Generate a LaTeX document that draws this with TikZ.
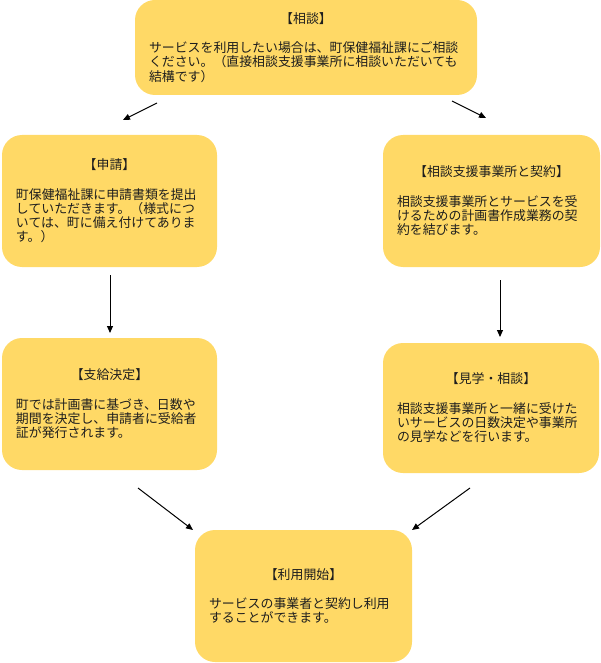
\documentclass[tikz,border=0pt]{standalone}
\usepackage{fontspec}
\newfontfamily\jp{Noto Sans CJK JP}
\usetikzlibrary{arrows.meta}
\definecolor{boxfill}{HTML}{FFD966}
\definecolor{txt}{HTML}{1E1E1E}
\begin{document}
\begin{tikzpicture}[x=1pt,y=-1pt,
  box/.style={fill=boxfill, rounded corners=20pt, inner xsep=14pt, inner ysep=0pt,
    align=left, font=\jp\fontsize{12.9}{14.3}\selectfont, text=txt},
  arr/.style={-{Triangle[length=7pt,width=6pt]}, line width=1pt, black}]
\useasboundingbox (0,0) rectangle (600,663);

\node[box, minimum width=342pt, minimum height=95pt, text width=314pt] (soudan) at (306,47.5)
  {\makebox[\linewidth]{【相談】}\\[15pt]
   サービスを利用したい場合は、町保健福祉課にご相談\\
   ください。（直接相談支援事業所に相談いただいても\\
   結構です）};

\node[box, minimum width=215pt, minimum height=132pt, text width=187pt] (shinsei) at (109.5,201)
  {\makebox[\linewidth]{【申請】}\\[15pt]
   町保健福祉課に申請書類を提出\\
   していただきます。（様式につ\\
   いては、町に備え付けてありま\\
   す。）};

\node[box, minimum width=217pt, minimum height=132pt, text width=189pt] (keiyaku) at (491.5,201)
  {\makebox[\linewidth]{【相談支援事業所と契約】}\\[15pt]
   相談支援事業所とサービスを受\\
   けるための計画書作成業務の契\\
   約を結びます。};

\node[box, minimum width=215pt, minimum height=132pt, text width=187pt] (shikyu) at (109.5,404)
  {\makebox[\linewidth]{【支給決定】}\\[15pt]
   町では計画書に基づき、日数や\\
   期間を決定し、申請者に受給者\\
   証が発行されます。};

\node[box, minimum width=216pt, minimum height=130pt, text width=188pt] (kengaku) at (491,408)
  {\makebox[\linewidth]{【見学・相談】}\\[15pt]
   相談支援事業所と一緒に受けた\\
   いサービスの日数決定や事業所\\
   の見学などを行います。};

\node[box, minimum width=217pt, minimum height=132pt, text width=189pt] (riyou) at (303.5,596)
  {\makebox[\linewidth]{【利用開始】}\\[15pt]
   サービスの事業者と契約し利用\\
   することができます。};

\coordinate (a1s) at (157,103); \coordinate (a1e) at (123,120);
\coordinate (a2s) at (452,101); \coordinate (a2e) at (486,118);
\coordinate (a3s) at (110,275); \coordinate (a3e) at (110,333);
\coordinate (a4s) at (500,280); \coordinate (a4e) at (500,337);
\coordinate (a5s) at (138,488); \coordinate (a5e) at (193,530);
\coordinate (a6s) at (470,488); \coordinate (a6e) at (412,530);

\draw[arr] (a1s) -- (a1e);
\draw[arr] (a2s) -- (a2e);
\draw[arr] (a3s) -- (a3e);
\draw[arr] (a4s) -- (a4e);
\draw[arr] (a5s) -- (a5e);
\draw[arr] (a6s) -- (a6e);
\end{tikzpicture}
\end{document}
